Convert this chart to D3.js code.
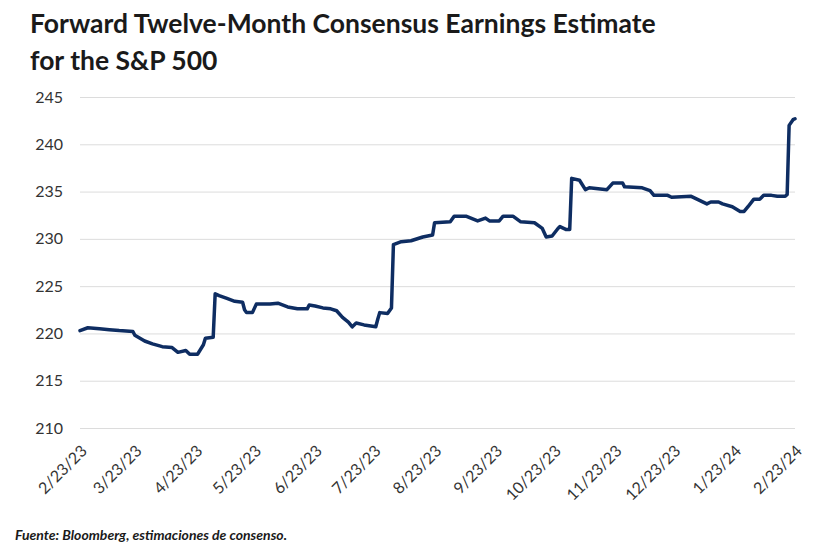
<!DOCTYPE html>
<html>
<head>
<meta charset="utf-8">
<script src="https://cdn.jsdelivr.net/npm/d3@7"></script>
<style>
  html, body { margin: 0; padding: 0; background: #ffffff; }
  svg { display: block; }
</style>
</head>
<body>
<svg id="chart" width="815" height="553"></svg>
<script>
const titleLines = ["Forward Twelve-Month Consensus Earnings Estimate", "for the S&P 500"];
const sourceNote = "Fuente: Bloomberg, estimaciones de consenso.";

const dates = [
  "2023-02-23","2023-02-27","2023-03-05","2023-03-10","2023-03-15","2023-03-22","2023-03-23","2023-03-28",
  "2023-04-01","2023-04-06","2023-04-11","2023-04-14","2023-04-18","2023-04-20","2023-04-24","2023-04-27","2023-04-28",
  "2023-05-02","2023-05-03","2023-05-05","2023-05-09","2023-05-13","2023-05-17","2023-05-18","2023-05-19","2023-05-22","2023-05-24","2023-05-31",
  "2023-06-04","2023-06-09","2023-06-14","2023-06-19","2023-06-20","2023-06-23","2023-06-27",
  "2023-07-01","2023-07-04","2023-07-07","2023-07-10","2023-07-12","2023-07-14","2023-07-18","2023-07-24","2023-07-25","2023-07-26","2023-07-30",
  "2023-08-01","2023-08-02","2023-08-06","2023-08-11","2023-08-17","2023-08-22","2023-08-23","2023-08-31",
  "2023-09-02","2023-09-08","2023-09-14","2023-09-18","2023-09-20","2023-09-25","2023-09-27",
  "2023-10-02","2023-10-06","2023-10-13","2023-10-17","2023-10-19","2023-10-22","2023-10-25","2023-10-26","2023-10-29","2023-10-31",
  "2023-11-01","2023-11-05","2023-11-08","2023-11-10","2023-11-19","2023-11-22","2023-11-27","2023-11-28",
  "2023-12-07","2023-12-11","2023-12-13","2023-12-20","2023-12-22",
  "2024-01-01","2024-01-05","2024-01-09","2024-01-11","2024-01-15","2024-01-17","2024-01-22","2024-01-26","2024-01-28","2024-01-30",
  "2024-02-02","2024-02-05","2024-02-07","2024-02-11","2024-02-14","2024-02-18","2024-02-19","2024-02-20","2024-02-22","2024-02-23"
];

const estimates = [
  220.3,220.6,220.5,220.4,220.3,220.2,219.8,219.2,
  218.9,218.6,218.5,218.0,218.2,217.8,217.8,218.8,219.5,
  219.6,224.2,224.0,223.7,223.4,223.3,222.5,222.2,222.2,223.1,223.1,
  223.2,222.8,222.6,222.6,223.0,222.9,222.7,
  222.6,222.4,221.7,221.2,220.7,221.1,220.9,220.7,221.5,222.2,222.1,
  222.7,229.4,229.7,229.8,230.2,230.4,231.7,231.8,
  232.4,232.4,231.9,232.2,231.9,231.9,232.4,
  232.4,231.8,231.7,231.1,230.2,230.3,231.1,231.3,231.0,231.0,
  236.4,236.2,235.2,235.4,235.2,235.9,235.9,235.5,
  235.4,235.1,234.6,234.6,234.4,
  234.5,234.1,233.7,233.9,233.9,233.7,233.4,232.9,232.9,233.4,
  234.2,234.2,234.6,234.6,234.5,234.5,234.7,242.0,242.6,242.7
];

const yTicks = [210, 215, 220, 225, 230, 235, 240, 245];
const xTickDates = ["2023-02-23","2023-03-23","2023-04-23","2023-05-23","2023-06-23","2023-07-23",
  "2023-08-23","2023-09-23","2023-10-23","2023-11-23","2023-12-23","2024-01-23","2024-02-23"];
const xTickLabels = ["2/23/23","3/23/23","4/23/23","5/23/23","6/23/23","7/23/23",
  "8/23/23","9/23/23","10/23/23","11/23/23","12/23/23","1/23/24","2/23/24"];

const parse = d3.utcParse("%Y-%m-%d");
const data = dates.map((d, i) => ({ date: parse(d), value: estimates[i] }));

const svg = d3.select("#chart");
const font = "Lato, 'Open Sans', sans-serif";

const x = d3.scaleUtc()
  .domain([parse(xTickDates[0]), parse(xTickDates[xTickDates.length - 1])])
  .range([80, 795]);
const y = d3.scaleLinear().domain([210, 245]).range([428, 97]);

// Title
svg.append("g").selectAll("text").data(titleLines).join("text")
  .attr("x", 30)
  .attr("y", (d, i) => 33 + i * 37)
  .attr("font-family", font)
  .attr("font-weight", 700)
  .attr("font-size", 26.5)
  .attr("fill", "#1a1a1a")
  .text(d => d);

// Gridlines
const yAxis = d3.axisLeft(y).tickValues(yTicks).tickSize(-(795 - 80)).tickPadding(17).tickFormat(d3.format("d"));
const gy = svg.append("g").attr("transform", "translate(80,0)").call(yAxis);
gy.select(".domain").remove();
gy.selectAll(".tick line").attr("stroke", "#dcdcdc").attr("stroke-width", 1);
gy.selectAll(".tick text")
  .attr("font-family", font)
  .attr("font-size", 16)
  .attr("fill", "#333333");

// X axis labels
const tickPairs = xTickDates.map((d, i) => ({ date: parse(d), label: xTickLabels[i] }));
svg.append("g").selectAll("text").data(tickPairs).join("text")
  .attr("transform", d => `translate(${x(d.date) + 8},${452}) rotate(-45)`)
  .attr("text-anchor", "end")
  .attr("font-family", font)
  .attr("font-size", 16)
  .attr("fill", "#333333")
  .text(d => d.label);

// Line
const line = d3.line().x(d => x(d.date)).y(d => y(d.value)).curve(d3.curveLinear);
svg.append("path")
  .datum(data)
  .attr("fill", "none")
  .attr("stroke", "#0e2d62")
  .attr("stroke-width", 3.5)
  .attr("stroke-linejoin", "round")
  .attr("stroke-linecap", "round")
  .attr("d", line);

// Source
svg.append("text")
  .attr("x", 15)
  .attr("y", 540)
  .attr("font-family", font)
  .attr("font-style", "italic")
  .attr("font-weight", 700)
  .attr("font-size", 14)
  .attr("fill", "#1a1a1a")
  .text(sourceNote);
</script>
</body>
</html>
